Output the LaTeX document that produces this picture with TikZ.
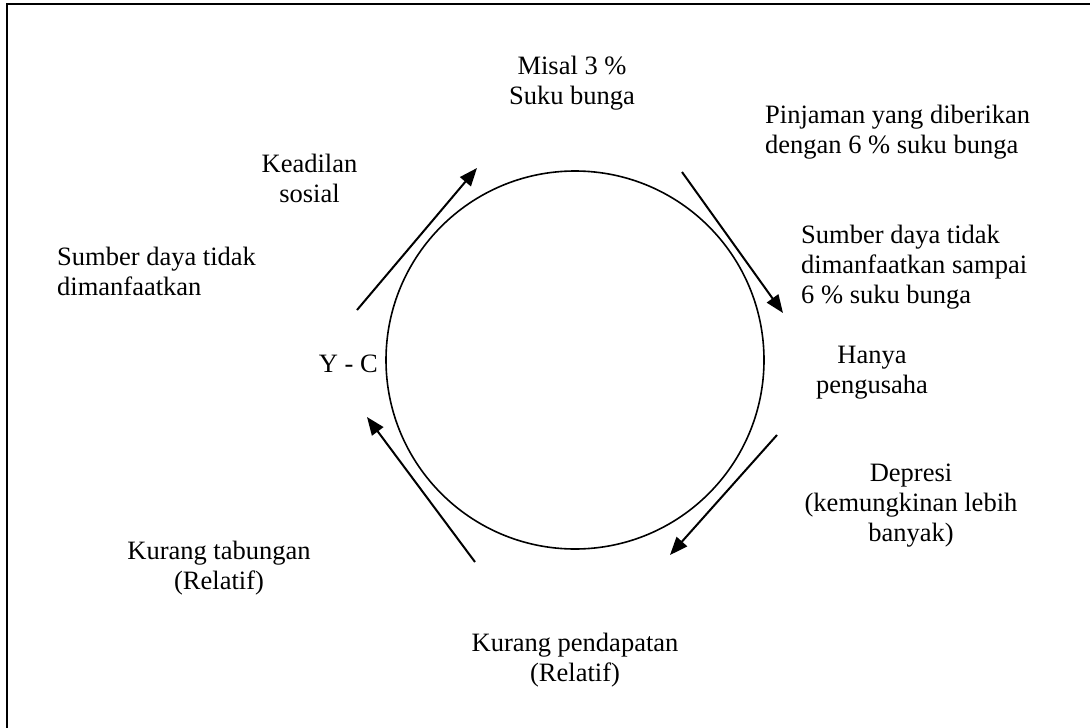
\documentclass[tikz,border=0pt]{standalone}
\usepackage{fontspec}
\setmainfont{Liberation Serif}
\usetikzlibrary{arrows.meta}
\tikzset{
  lbl/.style={inner sep=0pt, font=\fontsize{26.5}{30}\selectfont},
  flow/.style={line width=2pt, -{Triangle[length=18pt,width=14pt]}},
  ring/.style={line width=1.6pt},
  frame/.style={line width=2pt}
}
\begin{document}
\begin{tikzpicture}[x=1pt,y=-1pt]
\useasboundingbox (0,0) rectangle (1090,728);
% frame (extends beyond right and bottom edges)
\draw[frame] (7,740) -- (7,4) -- (1100,4);
% circle
\node[ring, draw, circle, minimum size=378pt, inner sep=0pt] (c) at (575,360) {};
% texts
\node[lbl, anchor=north, align=center] (t1) at (572,53) {\strut Misal 3 \%\\\strut Suku bunga};
\node[lbl, anchor=north west, align=left] (t2) at (765,102) {\strut Pinjaman yang diberikan\\\strut dengan 6 \% suku bunga};
\node[lbl, anchor=north west, align=left] (t3) at (801,222) {\strut Sumber daya tidak\\\strut dimanfaatkan sampai\\\strut 6 \% suku bunga};
\node[lbl, anchor=north, align=center] (t4) at (872,342) {\strut Hanya\\\strut pengusaha};
\node[lbl, anchor=north, align=center] (t5) at (911,460) {\strut Depresi\\\strut (kemungkinan lebih\\\strut banyak)};
\node[lbl, anchor=north, align=center] (t6) at (575,630) {\strut Kurang pendapatan\\\strut (Relatif)};
\node[lbl, anchor=north, align=center] (t7) at (219,538) {\strut Kurang tabungan\\\strut (Relatif)};
\node[lbl, anchor=base east] (t8) at (378,372) {Y - C};
\node[lbl, anchor=north, align=center] (t9) at (309.5,151) {\strut Keadilan\\\strut sosial};
\node[lbl, anchor=north west, align=left] (t10) at (57,244) {\strut Sumber daya tidak\\\strut dimanfaatkan};
% arrow end points
\coordinate (a1s) at (357,310); \coordinate (a1e) at (477,168);
\coordinate (a2s) at (682,172); \coordinate (a2e) at (783,313);
\coordinate (a3s) at (777,435); \coordinate (a3e) at (670,555);
\coordinate (a4s) at (475,562); \coordinate (a4e) at (367,417);
\draw[flow] (a1s) -- (a1e);
\draw[flow] (a2s) -- (a2e);
\draw[flow] (a3s) -- (a3e);
\draw[flow] (a4s) -- (a4e);
\end{tikzpicture}
\end{document}
